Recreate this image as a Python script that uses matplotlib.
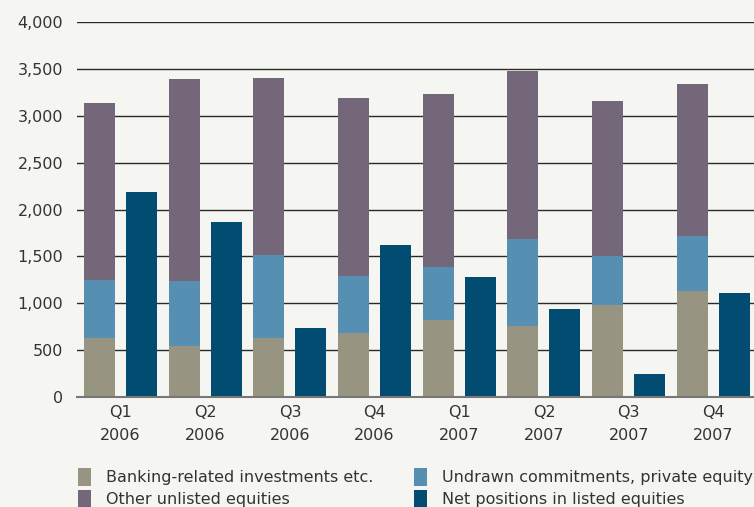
import numpy as np
import matplotlib
matplotlib.use('Agg')
import matplotlib.pyplot as plt

quarters = ['Q1\n2006', 'Q2\n2006', 'Q3\n2006', 'Q4\n2006',
            'Q1\n2007', 'Q2\n2007', 'Q3\n2007', 'Q4\n2007']
banking   = np.array([626, 540, 626, 679, 818, 754, 978, 1127])
undrawn   = np.array([618, 694, 885, 608, 565, 928, 522, 587])
unlisted  = np.array([1888, 2154, 1888, 1899, 1845, 1792, 1654, 1621])
listed    = np.array([2183, 1863, 732, 1618, 1276, 935, 242, 1106])

c_bank     = '#979482'
c_undrawn  = '#568fb2'
c_unlisted = '#736779'
c_listed   = '#024c72'
bg         = '#f5f5f1'
txt        = '#333333'

fig = plt.figure(figsize=(7.54, 5.07), dpi=100, facecolor=bg)
ax = fig.add_axes([77/754, 1-397/507, 1-77/754, 375/507])
ax.set_facecolor(bg)

x = np.arange(len(quarters))
w = 0.366
off = 0.248

ax.bar(x-off, banking, w, color=c_bank, label='Banking-related investments etc.', zorder=3)
ax.bar(x-off, undrawn, w, bottom=banking, color=c_undrawn,
       label='Undrawn commitments, private equity', zorder=3)
ax.bar(x-off, unlisted, w, bottom=banking+undrawn, color=c_unlisted,
       label='Other unlisted equities', zorder=3)
ax.bar(x+off, listed, w, color=c_listed, label='Net positions in listed equities', zorder=3)

ax.set_xlim(-0.514, 7.48)
ax.set_ylim(0, 4000)
ax.set_yticks(np.arange(0, 4001, 500))
ax.set_yticklabels(['{:,}'.format(v) for v in range(0, 4001, 500)])
ax.set_xticks(x)
ax.set_xticklabels(quarters, linespacing=1.6)

ax.grid(axis='y', color='#2a2a2a', lw=1.0, zorder=0)
ax.set_axisbelow(True)
for s in ['left', 'right', 'top']:
    ax.spines[s].set_visible(False)
ax.spines['bottom'].set_color('#777777')
ax.spines['bottom'].set_linewidth(1.5)
ax.spines['bottom'].set_zorder(4)
ax.tick_params(length=0, labelsize=11.5, colors=txt)
ax.tick_params(axis='y', pad=10)
ax.tick_params(axis='x', pad=6)

h, l = ax.get_legend_handles_labels()
order = [0, 2, 1, 3]
fig.legend([h[i] for i in order], [l[i] for i in order], ncol=2,
           loc='upper left', bbox_to_anchor=(72/754, 1-462/507),
           frameon=False, fontsize=11.5, labelcolor=txt,
           handlelength=0.8, handleheight=1.3, handletextpad=0.9,
           columnspacing=2.6, labelspacing=0.25, borderaxespad=0)

fig.savefig('out.png', dpi=100, facecolor=bg)
